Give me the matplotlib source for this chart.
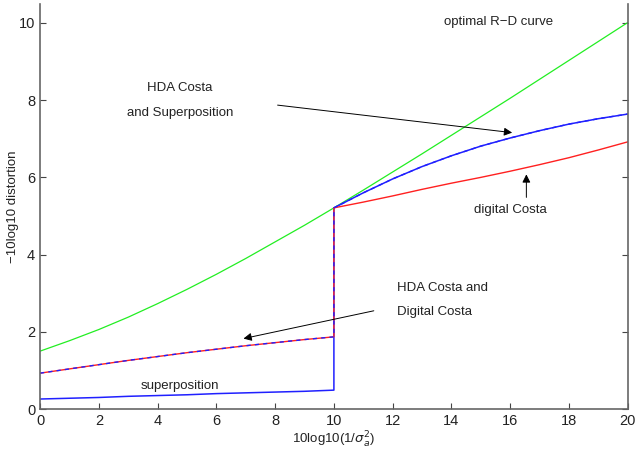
import matplotlib.pyplot as plt

plt.rcParams['font.family'] = ['Liberation Sans', 'DejaVu Sans']

# eixo x: 10log10(1/sigma_a^2), em dois trechos (salto em x = 10)
snr_low = [0, 1, 2, 3, 4, 5, 6, 7, 8, 9, 10]
snr_high = [10, 11, 12, 13, 14, 15, 16, 17, 18, 19, 20]
snr_full = [0, 1, 2, 3, 4, 5, 6, 7, 8, 9, 10, 11, 12, 13, 14, 15, 16, 17, 18, 19, 20]

# curva R-D otima
optimal_rd = [1.50, 1.77, 2.06, 2.38, 2.73, 3.10, 3.49, 3.90, 4.33, 4.76, 5.21,
              5.67, 6.14, 6.61, 7.09, 7.57, 8.05, 8.54, 9.03, 9.52, 10.01]

# superposicao
superpos_low = [0.26, 0.28, 0.30, 0.33, 0.35, 0.37, 0.40, 0.42, 0.44, 0.46, 0.49]
# HDA Costa e superposicao (acima de 10)
hda_high = [5.21, 5.60, 5.96, 6.28, 6.56, 6.81, 7.02, 7.21, 7.38, 7.52, 7.64]
# HDA Costa e Digital Costa (abaixo de 10)
costa_low = [0.93, 1.04, 1.15, 1.26, 1.36, 1.46, 1.55, 1.64, 1.72, 1.80, 1.87]
# digital Costa (acima de 10)
digital_high = [5.21, 5.36, 5.52, 5.69, 5.85, 6.00, 6.16, 6.33, 6.51, 6.71, 6.92]

fig = plt.figure(figsize=(6.36, 4.53), dpi=100)
ax = fig.add_axes([0.063, 0.097, 0.924, 0.895])

ax.plot(snr_full, optimal_rd, color='#22ee22', lw=0.9)
ax.plot(snr_low + snr_high, superpos_low + hda_high, color='#2020ff', lw=1.1)
ax.plot(snr_low + snr_high, costa_low + digital_high, color='#ff2020', lw=1.0)
ax.plot(snr_low + snr_high, costa_low + hda_high, color='#2020ff', lw=1.0,
        dashes=(3, 3))

# anotacoes
txt = dict(fontsize=9.5, color='#222222')
ax.text(15.6, 10.03, 'optimal R\u2212D curve', ha='center', va='center', **txt)
ax.text(4.76, 8.32, 'HDA Costa', ha='center', va='center', **txt)
ax.text(4.76, 7.67, 'and Superposition', ha='center', va='center', **txt)
ax.text(16.0, 5.16, 'digital Costa', ha='center', va='center', **txt)
ax.text(12.15, 3.13, 'HDA Costa and', ha='left', va='center', **txt)
ax.text(12.15, 2.51, 'Digital Costa', ha='left', va='center', **txt)
ax.text(4.76, 0.61, 'superposition', ha='center', va='center', **txt)

arr = dict(arrowstyle='-|>', color='black', lw=0.7, mutation_scale=12)
ax.annotate('', xy=(16.16, 7.15), xytext=(7.99, 7.88), arrowprops=arr)
ax.annotate('', xy=(16.55, 6.15), xytext=(16.55, 5.41), arrowprops=arr)
ax.annotate('', xy=(6.83, 1.81), xytext=(11.45, 2.56), arrowprops=arr)

ax.set_xlim(0, 20)
ax.set_ylim(0, 10.5)
ax.set_xticks(range(0, 21, 2))
ax.set_yticks(range(0, 11, 2))
ax.set_xlabel('10log10(1/$\\sigma_a^2$)', fontsize=9.5, color='#222222')
ax.set_ylabel('\u221210log10 distortion', fontsize=9.5, color='#222222')
ax.xaxis.set_label_coords(0.5, -0.052)
ax.yaxis.set_label_coords(-0.036, 0.5)

ax.tick_params(direction='in', length=4, width=0.8, colors='#444444',
               labelcolor='#222222', labelsize=10.5, right=True, top=False)
ax.spines['top'].set_visible(False)
for s in ['left', 'right', 'bottom']:
    ax.spines[s].set_color('#666666')
    ax.spines[s].set_linewidth(1.2)

plt.savefig('out.png', dpi=100)
